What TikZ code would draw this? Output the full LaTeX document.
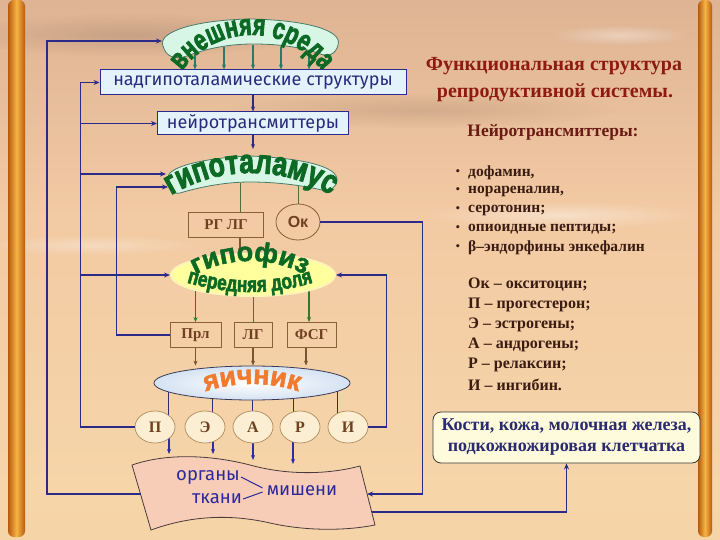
\documentclass[tikz,border=0pt]{standalone}
\usepackage{fontspec}
\setmainfont{Liberation Serif}
\newfontfamily\boxfont{Fira Sans}
\newfontfamily\arcfont[FakeStretch=0.78,FakeBold=2.5]{Liberation Sans Bold}
\newfontfamily\arcfontB[FakeStretch=0.72,FakeBold=2.5]{Liberation Sans Bold}
\newfontfamily\wfont[FakeBold=2]{Liberation Sans Bold}
\newfontfamily\okfont{Liberation Sans}
\usetikzlibrary{arrows.meta,shapes.geometric,decorations.text,fadings}
\tikzfading[name=softc,inner color=transparent!0,outer color=transparent!100]
\definecolor{navy}{HTML}{2C2A88}
\definecolor{boxblue}{HTML}{E4F2FB}
\definecolor{navtext}{HTML}{2A2A7A}
\definecolor{dgreen}{HTML}{0D6A25}
\definecolor{mint}{HTML}{D8F6E6}
\definecolor{mintbord}{HTML}{4A7A68}
\definecolor{hyel}{HTML}{FFFF9E}
\definecolor{hyelb}{HTML}{FFF4B8}
\definecolor{brn}{HTML}{8A6038}
\definecolor{brtext}{HTML}{6E4220}
\definecolor{cbord}{HTML}{B08A5A}
\definecolor{cfill}{HTML}{FBEED2}
\definecolor{ovout}{HTML}{D4E2F2}
\definecolor{ovbord}{HTML}{3A3A58}
\definecolor{orng}{HTML}{F07A2E}
\definecolor{tgtfill}{HTML}{F7CDB8}
\definecolor{tgtbord}{HTML}{4A3A3A}
\definecolor{tgttext}{HTML}{2B2A9C}
\definecolor{kfill}{HTML}{FEFBDD}
\definecolor{kbord}{HTML}{3A3A3A}
\definecolor{ktext}{HTML}{2A2A6E}
\definecolor{titlec}{HTML}{8E1A12}
\definecolor{subc}{HTML}{6A1A14}
\definecolor{listc}{HTML}{3A1C12}
\definecolor{olive}{HTML}{4E6E3A}
\definecolor{tealc}{HTML}{2A7A6A}
\definecolor{grn}{HTML}{2E7A2A}
\definecolor{brarr}{HTML}{7A5530}
\definecolor{lnav}{HTML}{2E2E70}
\definecolor{blu}{HTML}{2E2BA8}
\definecolor{bga}{HTML}{F1CFA2}
\definecolor{bgb}{HTML}{F6D5A9}
\definecolor{bgc}{HTML}{F2CAA3}
\definecolor{bgd}{HTML}{D9AE90}
\definecolor{bge}{HTML}{BE967E}
\definecolor{barA}{HTML}{B85A0C}
\definecolor{barB}{HTML}{F7B445}
\pgfdeclareverticalshading{bgsh}{100bp}{color(0bp)=(bga); color(30bp)=(bgb); color(55bp)=(bgc); color(80bp)=(bgd); color(100bp)=(bge)}
\pgfdeclarelayer{back}
\pgfdeclarelayer{bg}
\pgfsetlayers{back,bg,main}
\begin{document}
\begin{tikzpicture}[x=1pt,y=-1pt,
  navc/.style={draw=navy,line width=1.5pt},
  arr/.style={-{Stealth[length=6pt,width=5pt]}},
  sarr/.style={-{Stealth[length=5pt,width=4pt]}},
  bluebox/.style={draw=navy,line width=1pt,fill=boxblue,font=\boxfont\fontsize{18}{18}\selectfont,text=navtext,inner sep=0pt},
  brbox/.style={draw=brn,line width=0.8pt,font=\bfseries\fontsize{15}{15}\selectfont,text=brtext,inner sep=0pt,minimum height=25pt},
  circ/.style={ellipse,draw=cbord,line width=0.7pt,fill=cfill,minimum width=40pt,minimum height=32pt,inner sep=0pt,font=\bfseries\fontsize{16}{16}\selectfont,text=brtext},
  tgtf/.style={font=\boxfont\fontsize{18.5}{18.5}\selectfont,text=tgttext,inner sep=1pt},
  titlef/.style={font=\bfseries\fontsize{20}{20}\selectfont,text=titlec,inner sep=0pt},
  listf/.style={font=\bfseries\fontsize{15.5}{15.5}\selectfont,text=listc,inner sep=0pt,anchor=west},
  legf/.style={font=\bfseries\fontsize{16}{16}\selectfont,text=listc,inner sep=0pt,anchor=west}
]
\useasboundingbox (0,0) rectangle (720,540);
\begin{pgfonlayer}{back}
\shade[shading=bgsh] (0,0) rectangle (720,540);
\fill[bge!80!black,opacity=0.35,path fading=softc] (130,35) ellipse[x radius=170,y radius=22];
\fill[bge!85!black,opacity=0.3,path fading=softc] (420,110) ellipse[x radius=200,y radius=18];
\fill[white,opacity=0.35,path fading=softc] (620,35) ellipse[x radius=70,y radius=10];
\fill[white,opacity=0.4,path fading=softc] (560,215) ellipse[x radius=140,y radius=14];
\fill[white,opacity=0.3,path fading=softc] (90,245) ellipse[x radius=110,y radius=10];
\shade[left color=barA,right color=barA,middle color=barB,rounded corners=6pt] (8,0) rectangle (25,537);
\shade[left color=barA,right color=barA,middle color=barB,rounded corners=6pt] (698,0) rectangle (712,537);
\end{pgfonlayer}
% ---- bands and shapes
\filldraw[fill=mint,draw=mintbord,line width=0.8pt] (163,46) .. controls (157,32) and (195,20) .. (250,19) .. controls (305,20) and (343,30) .. (338,45) .. controls (336,54) and (328,58) .. (318,53) .. controls (296,46) and (275,44) .. (253,44) .. controls (230,44) and (208,48) .. (187,56) .. controls (175,60) and (166,57) .. cycle;
\path[decorate,decoration={text along path,text align=center,text={|\arcfontB\fontsize{30}{30}\selectfont\color{dgreen}|внешняя среда}}] (252,121) ++(212:86) arc[start angle=212,end angle=328,radius=86];
\coordinate (sredaW) at (162,41);
\node[bluebox,minimum width=306pt,minimum height=25pt] (nadg) at (253,82.5) {надгипоталамические структуры};
\node[bluebox,minimum width=191pt,minimum height=23pt] (neur) at (253,123.5) {нейротрансмиттеры};
\filldraw[fill=mint,draw=mintbord,line width=0.8pt] (168,178) .. controls (166,168) and (200,158) .. (250,156) .. controls (300,158) and (338,166) .. (337,180) .. controls (336,188) and (330,192) .. (322,190) .. controls (300,185) and (275,182) .. (250,182) .. controls (225,182) and (200,187) .. (180,193) .. controls (172,195) and (168,188) .. cycle;
\path[decorate,decoration={text along path,text align=center,text={|\arcfont\fontsize{34}{34}\selectfont\color{dgreen}|гипоталамус}}] (251,328) ++(235:155) arc[start angle=235,end angle=305,radius=155];
\coordinate (hypN) at (253,149);
\coordinate (hypW1) at (166,174);
\coordinate (hypW2) at (168,187);
\coordinate (hypS1) at (240,183);
\coordinate (hypS2) at (298,185);
\node[brbox,minimum width=75pt] (rglg) at (226,224.5) {РГ ЛГ};
\node[ellipse,draw=brn,line width=0.8pt,minimum width=44pt,minimum height=36pt,inner sep=0pt,font=\okfont\bfseries\fontsize{16}{16}\selectfont,text=brtext] (ok) at (298,222) {Ок};
\node[ellipse,fill=hyel,draw=hyelb,line width=2pt,minimum width=164pt,minimum height=42pt] (hypoph) at (253,275) {};
\path[decorate,decoration={text along path,text align=center,text={|\wfont\fontsize{27}{27}\selectfont\color{dgreen}|гипофиз}}] (250,378) ++(240:117) arc[start angle=240,end angle=300,radius=117];
\path[decorate,decoration={text along path,text align=center,text={|\arcfont\fontsize{22}{22}\selectfont\color{dgreen}|передняя доля}}] (250,76) ++(112:216) arc[start angle=112,end angle=68,radius=216];
\node[brbox,minimum width=51pt] (prl) at (195.5,335) {Прл};
\node[brbox,minimum width=38pt] (lg) at (253,335) {ЛГ};
\node[brbox,minimum width=49pt] (fsg) at (311.5,335) {ФСГ};
\node[ellipse,draw=ovbord,line width=0.8pt,inner color=white,outer color=ovout,minimum width=196pt,minimum height=34pt] (ovary) at (252,383) {};
\path[decorate,decoration={text along path,text align=center,text={|\wfont\fontsize{27}{27}\selectfont\color{orng}|яичник}}] (252,534) ++(250:150) arc[start angle=250,end angle=290,radius=150];
\node[circ] (P) at (155,427) {П};
\node[circ] (E) at (205,427) {Э};
\node[circ] (A) at (253,427) {А};
\node[circ] (R) at (300,427) {Р};
\node[circ] (I) at (348,427) {И};
% target shape
\filldraw[draw=tgtbord,fill=tgtfill,line width=0.8pt] (132,465) .. controls (170,452) and (215,456) .. (250,465) .. controls (290,476) and (330,474) .. (360,466) -- (375,525) .. controls (345,531) and (305,531) .. (270,523) .. controls (235,515) and (195,514) .. (151,530) -- cycle;
\coordinate (tgtW) at (140.5,494);
\coordinate (tgtE) at (367,494);
\coordinate (tgtE2) at (371.5,512);
\node[tgtf] (org) at (208,477) {органы};
\node[tgtf] (tk) at (217,499) {ткани};
\node[tgtf] (mish) at (302,491) {мишени};
\draw[tgttext,line width=1pt] (org.east) -- ([shift={(-3pt,3pt)}]mish.west);
\draw[tgttext,line width=1pt] (tk.east) -- ([shift={(-3pt,-1pt)}]mish.west);
% right side
\node[draw=kbord,line width=0.8pt,fill=kfill,rounded corners=8pt,minimum width=267pt,minimum height=51pt,inner sep=2pt,align=center,font=\bfseries\fontsize{18}{21}\selectfont,text=ktext] (kosti) at (566.5,437.5) {Кости, кожа, молочная железа,\\ подкожножировая клетчатка};
\node[titlef] (ti1) at (554,66) {Функциональная структура};
\node[titlef] (ti2) at (555,93) {репродуктивной системы.};
\node[font=\bfseries\fontsize{17.5}{17.5}\selectfont,text=subc,inner sep=0pt] (ti3) at (553,132) {Нейротрансмиттеры:};
\foreach \y/\t [count=\i] in {173/{дофамин,},191/{норареналин,},210/{серотонин;},229/{опиоидные пептиды;},248/{β–эндорфины энкефалин}}{
  \node[listf] (bl\i) at (468,\y) {\t};
  \node[font=\fontsize{13}{13}\selectfont,text=listc,inner sep=0pt] (bu\i) at (458,\y) {•};
}
\node[legf] (lg1) at (468,285) {Ок – окситоцин;};
\node[legf] (lg2) at (468,305) {П – прогестерон;};
\node[legf] (lg3) at (468,325) {Э – эстрогены;};
\node[legf] (lg4) at (468,345) {А – андрогены;};
\node[legf] (lg5) at (468,365) {Р – релаксин;};
\node[legf] (lg6) at (468,385) {И – ингибин.};
% ---- connectors behind
\begin{pgfonlayer}{bg}
\foreach \x/\y in {195/52,224/47,253/45,281/47,309/52}{
  \coordinate (sa) at (\x,\y);
  \draw[tealc,line width=1.2pt,sarr] (sa) -- (sa |- nadg.north);
}
\draw[navy,line width=1.2pt,sarr] (nadg.south) -- (neur.north);
\draw[navy,line width=1.2pt,sarr] (neur.south) -- (hypN);
\draw[olive,line width=1pt] (hypS1) -- (hypS1 |- rglg.north);
\draw[olive,line width=1pt] (hypS2) -- (ok.north);
\draw[brarr,line width=1.2pt,sarr] (hypS1 |- rglg.south) -- (hypS1 |- hypoph.north);
\draw[grn,line width=1.2pt,sarr] (hypoph.center -| prl.north) -- (prl.north);
\draw[olive,line width=1pt] (hypoph.center) -- (lg.north);
\draw[grn,line width=1.2pt,sarr] (hypoph.center -| 309,0) -- (309,0 |- fsg.north);
\draw[brarr,line width=1.2pt,sarr] (prl.south) -- (prl.south |- ovary.north);
\draw[brarr,line width=1.2pt,sarr] (lg.south) -- (lg.south |- ovary.north);
\draw[brarr,line width=1.2pt,sarr] (fsg.south -| 306,0) -- (306,0 |- ovary.north);
\foreach \x/\n in {168/P,212/E,252/A,293/R,337/I}{
  \draw[lnav,line width=1pt] (ovary.center -| \x,0) -- (\n.center -| \x,0);
}
\foreach \x/\n/\e in {169/P/454,213/E/454,253/A/460,293/R/464}{
  \coordinate (te) at (\x,\e);
  \draw[blu,line width=1.3pt,sarr] (\n.center -| te) -- (te);
}
\end{pgfonlayer}
% ---- navy loops
\draw[navc,arr] (tgtW) -- ++(-93.5,0) |- (sredaW);
\draw[navc,arr] (P.west) -- ++(-54,0) |- (nadg.west);
\coordinate (lp) at (81,427);
\draw[navc,arr] (lp |- neur.west) -- (neur.west);
\draw[navc,arr] (lp |- hypW1) -- (hypW1);
\draw[navc,arr] (lp |- hypoph.west) -- (hypoph.west);
\draw[navc,arr] (prl.west) -- ++(-53,0) |- (hypW2);
\draw[navc,arr] (I.east) -- ++(18,0) |- (hypoph.east);
\draw[navc,arr] (ok.east) -- ++(102,0) |- (tgtE);
\draw[navc,arr] (tgtE2) -| (kosti.south);
\end{tikzpicture}
\end{document}
